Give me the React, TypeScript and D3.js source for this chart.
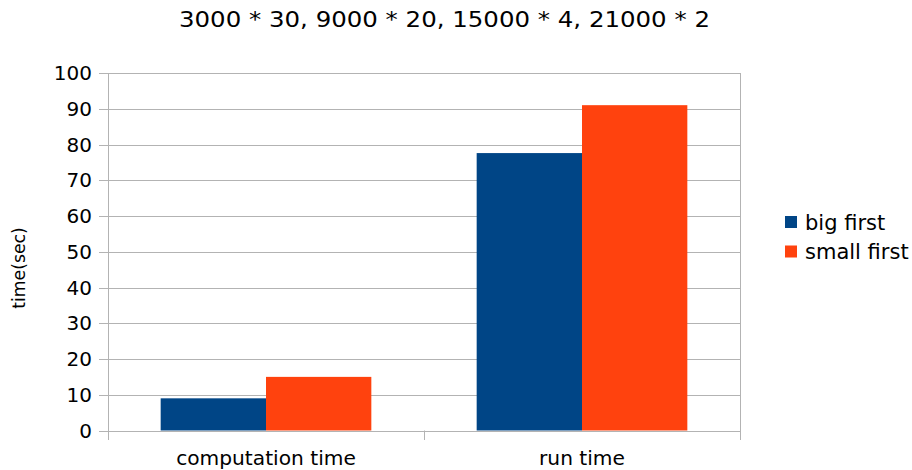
import React from "react";
import * as d3 from "d3";

const categories = ["computation time", "run time"];
const seriesNames = ["big first", "small first"];
const bigFirst = [9, 77.6];
const smallFirst = [15, 91];
const yTicks = [0, 10, 20, 30, 40, 50, 60, 70, 80, 90, 100];
const colors = ["#004586", "#ff420e"];
const title = "3000 * 30, 9000 * 20, 15000 * 4, 21000 * 2";

export default function App() {
  const W = 912, H = 470;
  const left = 108, right = 740, top = 73, bottom = 430.5;
  const font = "DejaVu Sans, sans-serif";
  const y = d3.scaleLinear().domain([0, 100]).range([bottom, top]);
  const x0 = d3.scaleBand<string>().domain(categories).range([left, right]).paddingInner(0).paddingOuter(0);
  const x1 = d3.scaleBand<string>().domain(seriesNames).range([0, x0.bandwidth()]).paddingInner(0).paddingOuter(0.5);
  const series = [bigFirst, smallFirst];
  return (
    <svg width={W} height={H} style={{ position: "absolute", left: 0, top: 0, background: "#fff" }} fontFamily={font}>
      <text x={179} y={26.5} fontSize={21} textLength={531} lengthAdjust="spacingAndGlyphs" fill="#000">{title}</text>
      {yTicks.map((t) => (
        <g key={t}>
          <line x1={left - 9} x2={right} y1={Math.round(y(t)) + 0.5} y2={Math.round(y(t)) + 0.5} stroke="#b3b3b3" strokeWidth={1} />
          <text x={92} y={y(t)} dy="0.36em" fontSize={20} textAnchor="end" fill="#000">{t}</text>
        </g>
      ))}
      <line x1={left + 0.5} x2={left + 0.5} y1={top} y2={bottom + 9.5} stroke="#b3b3b3" />
      <line x1={right + 0.5} x2={right + 0.5} y1={top} y2={bottom + 9.5} stroke="#b3b3b3" />
      {categories.slice(1).map((c) => (
        <line key={c} x1={Math.round(x0(c)!) + 0.5} x2={Math.round(x0(c)!) + 0.5} y1={bottom} y2={bottom + 9.5} stroke="#b3b3b3" />
      ))}
      {series.map((vals, si) =>
        vals.map((v, ci) => (
          <rect
            key={si + "-" + ci}
            x={x0(categories[ci])! + x1(seriesNames[si])!}
            y={y(v)}
            width={x1.bandwidth()}
            height={y(0) - y(v)}
            fill={colors[si]}
          />
        ))
      )}
      {categories.map((c) => (
        <text key={c} x={x0(c)! + x0.bandwidth() / 2} y={465} fontSize={20.2} textAnchor="middle" fill="#000">{c}</text>
      ))}
      <text transform={`translate(25,268) rotate(-90)`} fontSize={17.3} textAnchor="middle" fill="#000">time(sec)</text>
      {seriesNames.map((s, i) => (
        <g key={s}>
          <rect x={785} y={216 + i * 29.5} width={12} height={12} fill={colors[i]} />
          <text x={805} y={230 + i * 28.5} fontSize={21} fill="#000">{s}</text>
        </g>
      ))}
    </svg>
  );
}
